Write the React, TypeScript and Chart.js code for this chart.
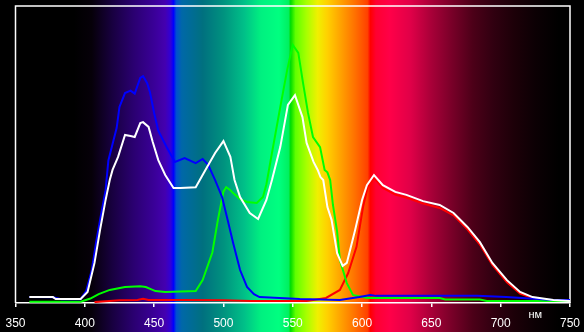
import React, { useEffect, useRef } from "react";
import { Chart, registerables } from "chart.js";

Chart.register(...registerables);

const X_MIN = 350;
const X_MAX = 750;
const X_STEP = 50;
const UNIT_LABEL = "нм";
const UNIT_AT = 725;

const whiteCurve: [number, number][] = [
  [360, 2.0], [377, 2.0], [379, 1.35], [397, 1.35], [402, 3.7], [407, 13.5], [411, 24.6],
  [415, 34.7], [418, 41.4], [420, 44.8], [424, 49.2], [429, 56.6], [433, 56.2], [436, 55.9],
  [440, 60.6], [442, 60.9], [446, 59.3], [449, 54.2], [453, 48.1], [458, 43.1], [464, 38.7],
  [469, 38.7], [480, 39.0], [487, 44.8], [494, 50.5], [500, 54.5], [505, 49.2], [508, 41.4],
  [512, 35.7], [519, 30.3], [525, 28.3], [531, 34.7], [535, 41.4], [541, 52.5], [546.5, 66.7],
  [551.6, 70.0], [557, 62.6], [560, 53.9], [565, 47.5], [568, 44.8], [570, 42.4], [572, 41.4],
  [575, 32.3], [578, 28.0], [582, 16.8], [586, 12.5], [589, 13.5], [595, 24.6], [600, 34.7],
  [603.5, 39.7], [608.6, 43.1], [615, 39.7], [624, 37.4], [632, 36.4], [644, 34.3], [656, 33.0],
  [666, 30.3], [676, 25.6], [685, 20.5], [694, 13.5], [704.5, 7.7], [714, 3.7], [723, 2.0],
  [738, 1.0], [750, 0.7],
];

const blueCurve: [number, number][] = [
  [360, 2.0], [377, 1.9], [383, 1.3], [397, 1.3], [401, 4.0], [405, 11], [408, 20], [411, 28],
  [415, 38], [417, 48], [423, 59], [425, 66], [429, 70.7], [433, 71.5], [436, 70.5], [440, 75.8],
  [442, 76.4], [445, 74], [447, 71], [450, 64], [453, 58], [459, 52.5], [465, 47.5], [472, 48.8],
  [480, 47.1], [485, 48.5], [489, 46.5], [494, 41.4], [499, 35.7], [503, 28], [507, 20.2],
  [512, 11.1], [517, 5.4], [522, 3.0], [526, 2.0], [555, 1.35], [584, 1.0], [598, 2.0],
  [606, 2.7], [610, 2.4], [683, 2.4], [704, 2.0], [738, 1.0], [750, 1.0],
];

const greenCurve: [number, number][] = [
  [360, 0.4], [397, 0.4], [404, 1.5], [410, 3.0], [418, 4.4], [429, 5.4], [440, 5.6],
  [444, 5.4], [451, 4.0], [458, 3.7], [480, 4.0], [485, 7.7], [492, 17], [496, 28], [500, 37.5],
  [502, 39], [505, 38], [507, 37], [512, 35], [517, 34], [524, 33.7], [528.5, 35.7], [531, 40],
  [535, 50.5], [541, 66], [546, 78.5], [550, 86.9], [554, 84.2], [557.4, 74.1], [561, 64],
  [564.6, 55.9], [569.7, 52.5], [573, 44.8], [575, 44], [577, 41.4], [579, 33], [582, 24],
  [584, 14.5], [589, 6.7], [593.4, 2.7], [604, 1.7], [656, 1.7], [660, 1.2], [685, 1.2],
  [690, 0.7], [750, 0.7],
];

const redCurve: [number, number][] = [
  [407, 0.3], [415, 0.6], [425, 0.9], [438, 1.0], [442, 1.4], [446, 1.0], [470, 1.0],
  [500, 0.9], [520, 0.7], [560, 0.7], [574, 1.7], [584, 4.4], [590, 10.1], [596, 18.9],
  [600.7, 32.3], [604, 39], [608.6, 42.1], [615, 38.7], [624, 36.5], [632, 35.5], [644, 33.5],
  [656, 32], [666, 29.5], [676, 24.8], [685, 19.7], [694, 12.8], [704.5, 7], [714, 3.2],
  [723, 1.7], [738, 0.7], [750, 0.7],
];

// spectrum background colour stops (wavelength, colour)
const spectrumStops: [number, string][] = [
  [392, "#000000"], [405, "#060009"], [420, "#180040"], [435, "#2a0070"], [450, "#3a0098"],
  [458, "#4400b0"], [462, "#3000d8"], [464, "#0000ff"], [466, "#0050d0"], [470, "#0068a8"],
  [485, "#00707f"], [500, "#00927f"], [515, "#00c088"], [527, "#00f080"], [540, "#00ff80"],
  [547, "#00f060"], [548.5, "#00dd00"], [552, "#60ff00"], [560, "#a8ff00"], [568, "#f0f000"],
  [575, "#ffd000"], [585, "#ffa000"], [595, "#ff7000"], [604, "#ff4000"], [606, "#ff0000"],
  [610, "#ff0030"], [620, "#ff0048"], [635, "#e00048"], [650, "#a80038"], [665, "#780028"],
  [680, "#4c0018"], [695, "#300010"], [710, "#1c0008"], [725, "#0c0004"], [742, "#000000"],
];

const toPoints = (arr: [number, number][]) => arr.map(([x, y]) => ({ x, y }));

const spectrumPlugin = {
  id: "spectrum",
  beforeDraw(chart: any) {
    const { ctx, width, height } = chart;
    const xs = chart.scales.x;
    ctx.save();
    ctx.fillStyle = "#000000";
    ctx.fillRect(0, 0, width, height);
    const p0 = xs.getPixelForValue(spectrumStops[0][0]);
    const p1 = xs.getPixelForValue(spectrumStops[spectrumStops.length - 1][0]);
    const g = ctx.createLinearGradient(p0, 0, p1, 0);
    for (const [w, c] of spectrumStops) {
      const p = xs.getPixelForValue(w);
      g.addColorStop(Math.min(1, Math.max(0, (p - p0) / (p1 - p0))), c);
    }
    ctx.fillStyle = g;
    ctx.fillRect(p0, 0, p1 - p0, height);
    ctx.restore();
  },
  beforeDatasetsDraw(chart: any) {
    const { ctx, chartArea } = chart;
    ctx.save();
    ctx.strokeStyle = "#ffffff";
    ctx.lineWidth = 1.5;
    ctx.beginPath();
    ctx.moveTo(chartArea.left, chartArea.bottom);
    ctx.lineTo(chartArea.left, chartArea.top);
    ctx.lineTo(chartArea.right, chartArea.top);
    ctx.lineTo(chartArea.right, chartArea.bottom);
    ctx.stroke();
    ctx.restore();
  },
  afterDraw(chart: any) {
    const { ctx, chartArea } = chart;
    const xs = chart.scales.x;
    ctx.save();
    ctx.fillStyle = "#ffffff";
    ctx.font = "11px 'Liberation Sans', Arial, sans-serif";
    ctx.textAlign = "center";
    ctx.textBaseline = "middle";
    ctx.fillText(UNIT_LABEL, xs.getPixelForValue(UNIT_AT), chartArea.bottom + 12);
    ctx.restore();
  },
};

export default function App() {
  const ref = useRef<HTMLCanvasElement | null>(null);
  useEffect(() => {
    document.body.style.margin = "0";
    const canvas = ref.current!;
    const mk = (label: string, data: [number, number][], color: string) => ({
      label,
      data: toPoints(data),
      borderColor: color,
      backgroundColor: color,
      borderWidth: 2,
      pointRadius: 0,
      tension: 0,
      fill: false,
    });
    const chart = new Chart(canvas, {
      type: "line",
      data: {
        datasets: [
          mk("white", whiteCurve, "#ffffff"),
          mk("blue", blueCurve, "#0000ff"),
          mk("green", greenCurve, "#00ff00"),
          mk("red", redCurve, "#ff0000"),
        ],
      },
      options: {
        animation: false,
        responsive: false,
        maintainAspectRatio: false,
        layout: { padding: { left: 15.5, right: 14, top: 6, bottom: 0 } },
        plugins: { legend: { display: false }, tooltip: { enabled: false } },
        scales: {
          x: {
            type: "linear",
            min: X_MIN,
            max: X_MAX,
            border: { display: true, color: "#ffffff", width: 1.5 },
            grid: { display: true, drawOnChartArea: false, drawTicks: true, tickLength: 4, color: "#ffffff", lineWidth: 1.5 },
            ticks: {
              stepSize: X_STEP,
              color: "#ffffff",
              maxRotation: 0,
              padding: 9,
              font: { size: 12, family: "'Liberation Sans', Arial, sans-serif" },
            },
            afterFit: (s: any) => {
              s.height = 29;
              s.paddingLeft = 0;
              s.paddingRight = 0;
            },
          },
          y: { display: false, min: 0, max: 100 },
        },
      },
      plugins: [spectrumPlugin],
    } as any);
    return () => chart.destroy();
  }, []);
  return <canvas ref={ref} width={584} height={332} style={{ display: "block", width: 584, height: 332 }} />;
}
